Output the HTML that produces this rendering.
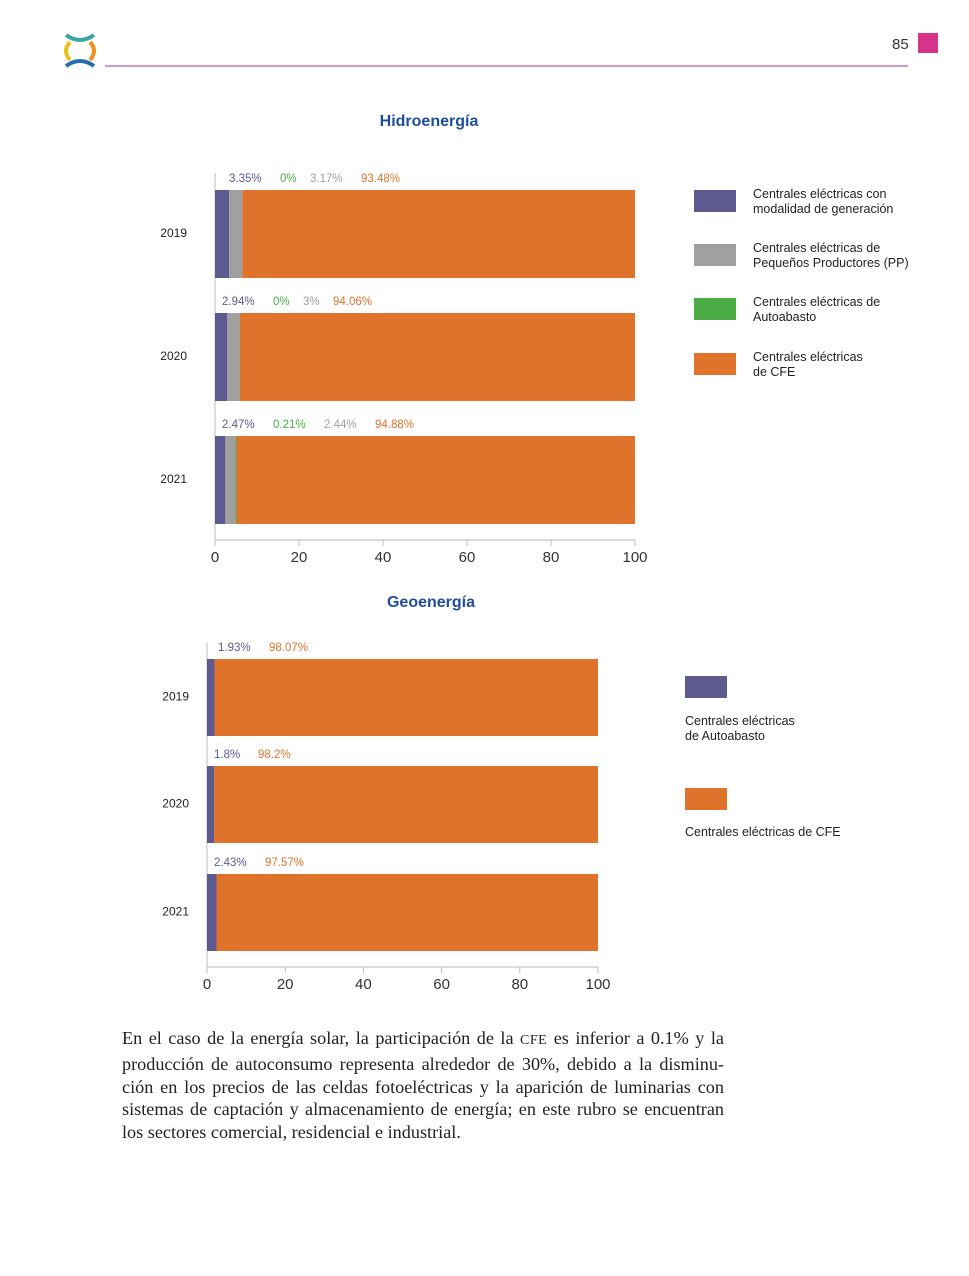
<!DOCTYPE html>
<html><head><meta charset="utf-8">
<style>
body{margin:0;width:969px;height:1276px;background:#fff;position:relative;overflow:hidden;font-family:"Liberation Sans",sans-serif}
svg{position:absolute;left:0;top:0}
.para{position:absolute;left:122px;top:1027px;width:602px;font-family:"Liberation Serif",serif;font-size:18.2px;line-height:22.8px;color:#222}
.para div{text-align:justify;text-align-last:justify;white-space:nowrap}
.para div.last{text-align-last:left}
.sc{font-size:14px;letter-spacing:0.5px}
</style></head><body>
<svg id="page" width="969" height="1276">
 <g>
  <g fill="none" stroke-width="4">
   <path d="M66 35 Q80 45 94 35" stroke="#3aa6a0"/>
   <path d="M70 42 Q62 51 70 60" stroke="#e8c21c"/>
   <path d="M90 42 Q98 51 90 60" stroke="#f09020"/>
   <path d="M66 66 Q80 56 94 66" stroke="#1f6fb0"/>
  </g>
  <line x1="105" y1="66" x2="908" y2="66" stroke="#d49ac4" stroke-width="2"/>
  <text x="892" y="49" font-size="15" fill="#333">85</text>
  <rect x="918" y="33" width="20" height="20" fill="#d6338a"/>
 </g>
 <g id="c1"></g><g id="c2"></g>
</svg>
<div class="para">
<div>En el caso de la energía solar, la participación de la <span class="sc">CFE</span> es inferior a 0.1% y la</div>
<div>producción de autoconsumo representa alrededor de 30%, debido a la disminu-</div>
<div>ción en los precios de las celdas fotoeléctricas y la aparición de luminarias con</div>
<div>sistemas de captación y almacenamiento de energía; en este rubro se encuentran</div>
<div class="last">los sectores comercial, residencial e industrial.</div>
</div>
<script>
const years=["2019","2020","2021"];
const hPurple=[3.35,2.94,2.47];
const hGray=[3.17,3,2.44];
const hGreen=[0,0,0.21];
const hOrange=[93.48,94.06,94.88];
const gPurple=[1.93,1.8,2.43];
const gOrange=[98.07,98.2,97.57];
const ticks=[0,20,40,60,80,100];
const C={p:"#5c5a8e",g:"#a0a0a0",gr:"#4bac46",o:"#e0732b"};
const NS="http://www.w3.org/2000/svg";
function mk(parent,tag,at,txt){const e=document.createElementNS(NS,tag);for(const k in at)e.setAttribute(k,at[k]);if(txt!==undefined)e.textContent=txt;parent.appendChild(e);return e;}
function chart(gid,x0,x1,barTops,barH,axisY,axisTop,series,labelX0,labelGap,title,titleX,titleY,yOff){
 const g=document.getElementById(gid);
 const sx=v=>x0+(x1-x0)*v/100;
 const t=mk(g,"text",{x:titleX,y:titleY,"font-size":16,"font-weight":"bold",fill:"#1f4e9a","text-anchor":"middle"},title);
 
 
 const ax=mk(g,"line",{x1:x0,y1:axisTop,x2:x0,y2:axisY,stroke:"#bbb"});
 
 
 const bx=mk(g,"line",{x1:x0,y1:axisY,x2:x1,y2:axisY,stroke:"#bbb"});
 
 
 ticks.forEach(v=>{
  mk(g,"line",{x1:sx(v),y1:axisY,x2:sx(v),y2:axisY+6,stroke:"#bbb"});
  const tl=mk(g,"text",{x:sx(v),y:axisY+22,"font-size":15,fill:"#333","text-anchor":"middle"},v);
  
  
 });
 years.forEach((y,i)=>{
  const top=barTops[i];
  const yl=mk(g,"text",{x:x0-yOff,y:top+barH/2+3,"font-size":12,fill:"#222","text-anchor":"end"},y);
  
  
  let acc=0;
  series.bars.forEach(s=>{
   const v=s.vals[i];
   const r=mk(g,"rect",{x:sx(acc),y:top,width:Math.max(0,sx(acc+v)-sx(acc)),height:barH,fill:s.c});
   
   
   acc+=v;
  });
  let lx=labelX0[i];
  series.labels.forEach((s,j)=>{
   const txt=s.vals[i]+"%";
   const l=mk(g,"text",{x:lx,y:top-8,"font-size":11.5,fill:s.c},txt);
   
   
   lx+=txt.length*7+labelGap;
  });
 });
}
chart("c1",215,635,[190,313,436],88,540,173,
 {bars:[{n:"purple",vals:hPurple,c:C.p},{n:"gray",vals:hGray,c:C.g},{n:"green",vals:hGreen,c:C.gr},{n:"orange",vals:hOrange,c:C.o}],
  labels:[{n:"purple",vals:hPurple,c:C.p},{n:"green",vals:hGreen,c:C.gr},{n:"gray",vals:hGray,c:C.g},{n:"orange",vals:hOrange,c:C.o}]},
 [229,222,222],16,"Hidroenergía",429,126,28);
chart("c2",207,598,[659,766,874],77,967,643,
 {bars:[{n:"purple",vals:gPurple,c:C.p},{n:"orange",vals:gOrange,c:C.o}],
  labels:[{n:"purple",vals:gPurple,c:C.p},{n:"orange",vals:gOrange,c:C.o}]},
 [218,214,214],16,"Geoenergía",431,607,18);
const svg=document.getElementById("page");
const leg1=[[C.p,190,["Centrales eléctricas con","modalidad de generación"]],[C.g,244,["Centrales eléctricas de","Pequeños Productores (PP)"]],[C.gr,298,["Centrales eléctricas de","Autoabasto"]],[C.o,353,["Centrales eléctricas","de CFE"]]];
leg1.forEach(l=>{
 const r=mk(svg,"rect",{x:694,y:l[1],width:42,height:22,fill:l[0]});
 
 
 l[2].forEach((s,k)=>{const t=mk(svg,"text",{x:753,y:l[1]+8+k*15,"font-size":12.5,fill:"#222"},s);
  
  });
});
const leg2=[[C.p,676,["Centrales eléctricas","de Autoabasto"],725],[C.o,788,["Centrales eléctricas de CFE"],836]];
leg2.forEach(l=>{
 const r=mk(svg,"rect",{x:685,y:l[1],width:42,height:22,fill:l[0]});
 
 
 l[2].forEach((s,k)=>{const t=mk(svg,"text",{x:685,y:l[3]+k*15,"font-size":12.5,fill:"#222"},s);
  
  });
});
</script>
</body></html>
